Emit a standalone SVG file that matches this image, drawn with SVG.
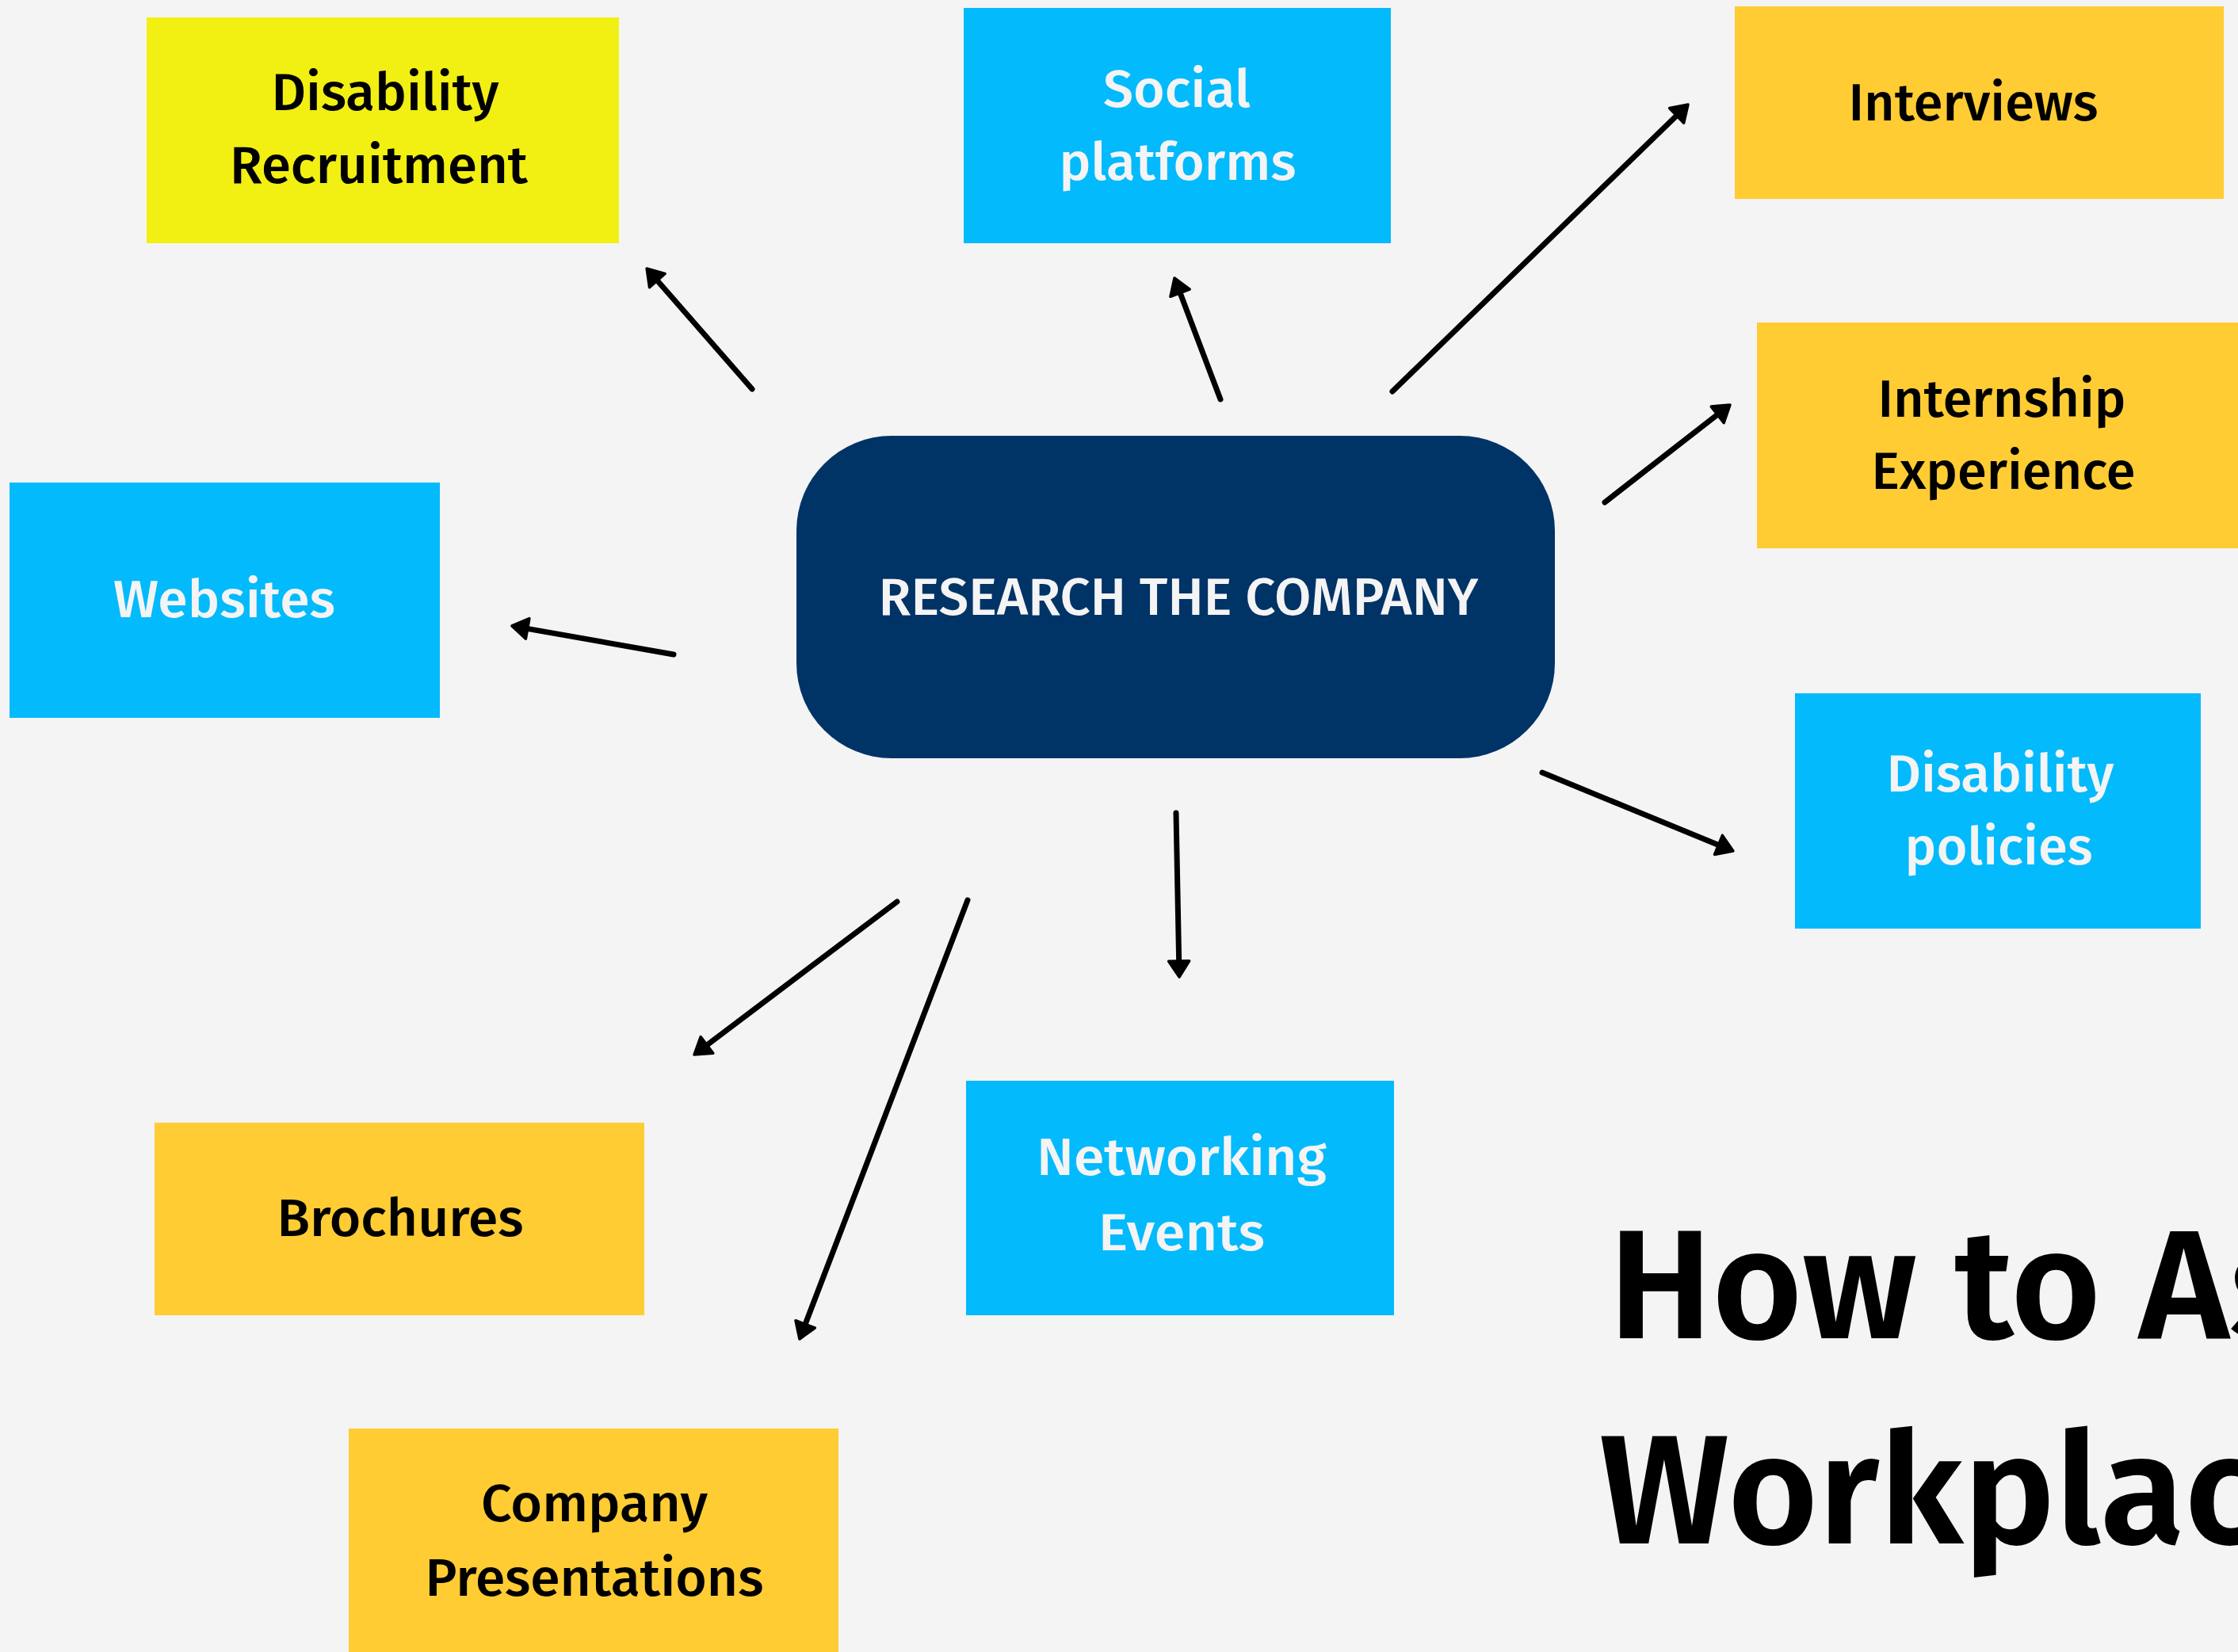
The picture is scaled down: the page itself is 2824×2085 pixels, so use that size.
<svg xmlns="http://www.w3.org/2000/svg" width="2824" height="2085" viewBox="0 0 2824 2085">
<style>
.lbl{font-family:"Fira Sans","Roboto","Noto Sans",sans-serif;font-weight:500;font-size:66px;text-anchor:middle}
.dark{fill:#000000}
.light{fill:#F4F4F4}
.yel{fill:#F2EF13}
.blu{fill:#03BAFC}
.org{fill:#FFCC33}
.navy{fill:#003366}
.title{font-family:"Fira Sans","Roboto","Noto Sans",sans-serif;font-weight:600;font-size:195px;fill:#000000}
.conn line{stroke:#000000;stroke-width:7;stroke-linecap:round;fill:none;marker-end:url(#ah)}
</style>
<defs>
<marker id="ah" markerUnits="userSpaceOnUse" viewBox="0 0 26 32" markerWidth="26" markerHeight="32" refX="5" refY="16" orient="auto">
<path d="M3,3 L23,16 L3,29 Z" fill="#000000" stroke="#000000" stroke-width="3.5" stroke-linejoin="round"/>
</marker>
</defs>
<rect width="2824" height="2085" fill="#F4F4F4"/>

<g id="center">
<rect class="navy" x="1005" y="550" width="957" height="407" rx="120" ry="120"/>
<text class="lbl light" x="1487" y="776" textLength="757" lengthAdjust="spacingAndGlyphs">RESEARCH THE COMPANY</text>
</g>

<g id="disability-recruitment">
<rect class="yel" x="185" y="22" width="596" height="285"/>
<text class="lbl dark" x="486" y="139" textLength="287" lengthAdjust="spacingAndGlyphs">Disability</text>
<text class="lbl dark" x="478" y="231" textLength="376" lengthAdjust="spacingAndGlyphs">Recruitment</text>
</g>

<g id="social-platforms">
<rect class="blu" x="1216" y="10" width="539" height="297"/>
<text class="lbl light" x="1485" y="135" textLength="186" lengthAdjust="spacingAndGlyphs">Social</text>
<text class="lbl light" x="1486" y="227" textLength="299" lengthAdjust="spacingAndGlyphs">platforms</text>
</g>

<g id="interviews">
<rect class="org" x="2189" y="8" width="617" height="243"/>
<text class="lbl dark" x="2490" y="152" textLength="315" lengthAdjust="spacingAndGlyphs">Interviews</text>
</g>

<g id="internship-experience">
<rect class="org" x="2217" y="407" width="607" height="285"/>
<text class="lbl dark" x="2526" y="526" textLength="313" lengthAdjust="spacingAndGlyphs">Internship</text>
<text class="lbl dark" x="2528" y="617" textLength="333" lengthAdjust="spacingAndGlyphs">Experience</text>
</g>

<g id="websites">
<rect class="blu" x="12" y="609" width="543" height="297"/>
<text class="lbl light" x="283" y="779" textLength="280" lengthAdjust="spacingAndGlyphs">Websites</text>
</g>

<g id="disability-policies">
<rect class="blu" x="2265" y="875" width="512" height="297"/>
<text class="lbl light" x="2524" y="999" textLength="287" lengthAdjust="spacingAndGlyphs">Disability</text>
<text class="lbl light" x="2522" y="1091" textLength="237" lengthAdjust="spacingAndGlyphs">policies</text>
</g>

<g id="networking-events">
<rect class="blu" x="1219" y="1364" width="540" height="296"/>
<text class="lbl light" x="1491" y="1483" textLength="366" lengthAdjust="spacingAndGlyphs">Networking</text>
<text class="lbl light" x="1491" y="1578" textLength="210" lengthAdjust="spacingAndGlyphs">Events</text>
</g>

<g id="brochures">
<rect class="org" x="195" y="1417" width="618" height="243"/>
<text class="lbl dark" x="505" y="1560" textLength="311" lengthAdjust="spacingAndGlyphs">Brochures</text>
</g>

<g id="company-presentations">
<rect class="org" x="440" y="1803" width="618" height="290"/>
<text class="lbl dark" x="750" y="1920" textLength="286" lengthAdjust="spacingAndGlyphs">Company</text>
<text class="lbl dark" x="750" y="2014" textLength="427" lengthAdjust="spacingAndGlyphs">Presentations</text>
</g>

<g id="title">
<text class="title" x="2030" y="1689">How to Ask</text>
<text class="title" x="2018" y="1948">Workplace</text>
</g>

<g id="connectors" class="conn">
<line x1="949" y1="491" x2="828" y2="352.5"/>
<line x1="1540" y1="504" x2="1488.4" y2="367.8"/>
<line x1="1757" y1="494" x2="2117.1" y2="144.5"/>
<line x1="2025" y1="634" x2="2168.8" y2="522.1"/>
<line x1="850" y1="826" x2="663.7" y2="793.1"/>
<line x1="1946" y1="975" x2="2170.3" y2="1067.2"/>
<line x1="1484" y1="1026" x2="1487.7" y2="1215"/>
<line x1="1132" y1="1138" x2="890.4" y2="1320.2"/>
<line x1="1221" y1="1136" x2="1015.4" y2="1673.2"/>
</g>
</svg>
